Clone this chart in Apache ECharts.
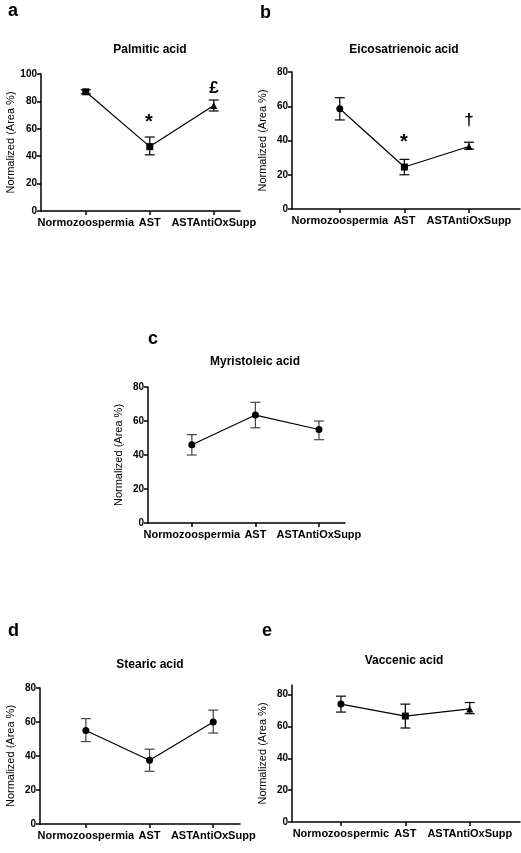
<!DOCTYPE html><html><head><meta charset="utf-8"><script src="https://cdn.jsdelivr.net/npm/echarts@6/dist/echarts.min.js"></script>
<style>html,body{margin:0;background:#fff}#c{width:521px;height:853px}</style></head><body><div id="c"></div><script>
const categories=['Normozoospermia','AST','ASTAntiOxSupp'];
const categoriesE=['Normozoospermic','AST','ASTAntiOxSupp'];
const titles=['Palmitic acid','Eicosatrienoic acid','Myristoleic acid','Stearic acid','Vaccenic acid'];
const panelLetters=['a','b','c','d','e'];
const meanA=[87,47,77], lowA=[85.5,41,73], highA=[88.5,54,81];
const meanB=[58.5,24.5,36.5], lowB=[52,20,35], highB=[65,29,39];
const meanC=[46,63.5,55], lowC=[40,56,49], highC=[52,71,60];
const meanD=[55,37.5,60], lowD=[48.5,31,53.5], highD=[62,44,67];
const meanE=[74,66.5,71], lowE=[69,59,68], highE=[79,74,75];
const yMax=[100,80,80,80,86];
const markerSets=[['rect','rect','triangle'],['circle','rect','triangle'],['circle','circle','circle'],['circle','circle','circle'],['circle','rect','triangle']];
const means=[meanA,meanB,meanC,meanD,meanE],lows=[lowA,lowB,lowC,lowD,lowE],highs=[highA,highB,highC,highD,highE];
const cats=[categories,categories,categories,categories,categoriesE];
const grids=[{left:41,top:74,width:199,height:137},{left:292,top:72,width:228,height:137},{left:148,top:387,width:197,height:136},{left:40,top:688,width:200,height:136},{left:292,top:685,width:228,height:137}];
const xr=[[-0.70,2.41],[-0.74,2.79],[-0.69,2.41],[-0.72,2.42],[-0.76,2.78]];
const titlePos=[[150,44],[404,44],[255,356],[150,659],[404,655]];
const letterPos=[[8,2],[260,4],[148,330],[8,622],[262,622]];
const errColor=['#000','#000','#444','#444','#000'];
const F='Liberation Sans';
const chart=echarts.init(document.getElementById('c'));
const xAxis=[],yAxis=[],series=[],graphic=[];
for(let i=0;i<5;i++){
 const c=cats[i];
 xAxis.push({type:'value',gridIndex:i,min:xr[i][0],max:xr[i][1],splitLine:{show:false},
  axisLine:{onZero:false,lineStyle:{color:'#000',width:1.5}},
  axisTick:{customValues:[0,1,2],length:4,lineStyle:{color:'#000',width:1.5}},
  axisLabel:{customValues:[0,1,2],formatter:v=>c[Math.round(v)],color:'#000',fontFamily:F,fontWeight:'bold',fontSize:11,margin:6}});
 yAxis.push({type:'value',gridIndex:i,min:0,max:yMax[i],interval:20,splitLine:{show:false},
  name:'Normalized (Area %)',nameLocation:'middle',nameGap:24,nameTextStyle:{fontFamily:F,fontSize:11,color:'#000'},
  axisLine:{show:true,onZero:false,lineStyle:{color:'#000',width:1.5}},axisTick:{show:true,length:4,lineStyle:{color:'#000',width:1.5}},
  axisLabel:{showMaxLabel:i!==4,color:'#000',fontFamily:F,fontWeight:'bold',fontSize:10,margin:4}});
 series.push({type:'line',xAxisIndex:i,yAxisIndex:i,data:means[i].map((v,k)=>({value:[k,v],symbol:markerSets[i][k]})),
  symbolSize:7,itemStyle:{color:'#000'},lineStyle:{color:'#000',width:1.2},z:3});
 series.push({type:'custom',xAxisIndex:i,yAxisIndex:i,data:means[i].map((v,k)=>[k,lows[i][k],highs[i][k]]),z:2,
  renderItem:(p,api)=>{const lo=api.coord([api.value(0),api.value(1)]),hi=api.coord([api.value(0),api.value(2)]);const w=5;
   const st={stroke:errColor[i],lineWidth:1.2};
   return {type:'group',children:[{type:'line',shape:{x1:lo[0],y1:lo[1],x2:hi[0],y2:hi[1]},style:st},
    {type:'line',shape:{x1:lo[0]-w,y1:lo[1],x2:lo[0]+w,y2:lo[1]},style:st},
    {type:'line',shape:{x1:hi[0]-w,y1:hi[1],x2:hi[0]+w,y2:hi[1]},style:st}]};}});
 graphic.push({type:'text',x:titlePos[i][0],y:titlePos[i][1],style:{text:titles[i],font:'bold 12px '+F,fill:'#000',textAlign:'center'}});
 graphic.push({type:'text',x:letterPos[i][0],y:letterPos[i][1],style:{text:panelLetters[i],font:'bold 18px '+F,fill:'#000'}});
}
graphic.push({type:'text',x:149,y:112,style:{text:'*',font:'bold 20px '+F,fill:'#000',textAlign:'center'}});
graphic.push({type:'text',x:214,y:80,style:{text:'£',font:'bold 17px '+F,fill:'#000',textAlign:'center'}});
graphic.push({type:'text',x:404,y:132,style:{text:'*',font:'bold 20px '+F,fill:'#000',textAlign:'center'}});
graphic.push({type:'text',x:469,y:112,style:{text:'†',font:'bold 17px '+F,fill:'#000',textAlign:'center'}});
chart.setOption({animation:false,grid:grids,xAxis,yAxis,series,graphic});
</script></body></html>
